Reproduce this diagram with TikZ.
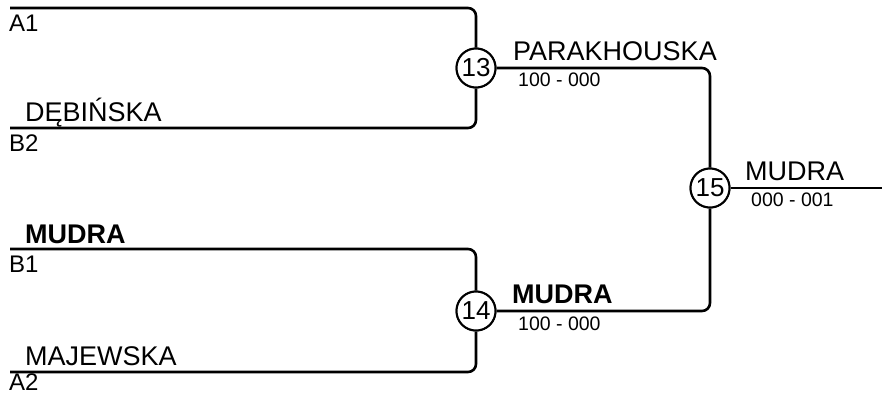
\documentclass[tikz,border=0pt]{standalone}
\usepackage{fontspec}
\setmainfont{Liberation Sans}
\begin{document}
\begin{tikzpicture}[x=1pt,y=-1pt,
  wire/.style={line width=2.6pt, rounded corners=8pt},
  matchnum/.style={circle, draw, line width=2pt, minimum size=39pt, inner sep=0pt, font=\fontsize{26}{26}\selectfont, fill=white},
  player/.style={anchor=base west, inner sep=0pt, font=\fontsize{27}{27}\selectfont},
  seed/.style={anchor=base west, inner sep=0pt, text depth=0pt, font=\fontsize{24}{24}\selectfont},
  score/.style={anchor=base west, inner sep=0pt, font=\fontsize{19.5}{19.5}\selectfont}]
\useasboundingbox (0,0) rectangle (882,394);
% match circles
\node[matchnum] (m13) at (476,68) {13};
\node[matchnum] (m14) at (476,311) {14};
\node[matchnum] (m15) at (710,188) {15};
% entry coordinates
\coordinate (a1) at (10,8);
\coordinate (b2) at (10,128);
\coordinate (b1) at (10,249);
\coordinate (a2) at (10,372);
\coordinate (out) at (882,188);
% brackets
\draw[wire] (a1) -| (m13.north);
\draw[wire] (b2) -| (m13.south);
\draw[wire] (b1) -| (m14.north);
\draw[wire] (a2) -| (m14.south);
\draw[wire] (m13.east) -| (m15.north);
\draw[wire] (m14.east) -| (m15.south);
\draw[wire] (m15.east) -- (out);
% redraw circles above lines
\node[matchnum] at (m13) {13};
\node[matchnum] at (m14) {14};
\node[matchnum] at (m15) {15};
% seeds
\node[seed] (sA1) at (9,31) {A1};
\node[seed] (sB2) at (9,151) {B2};
\node[seed] (sB1) at (9,272) {B1};
\node[seed] (sA2) at (9,390) {A2};
% players
\node[player] (pDeb) at (25,121) {DĘBIŃSKA};
\node[player] (pMud) at (25,243) {\bfseries MUDRA};
\node[player] (pMaj) at (25,365) {MAJEWSKA};
% winners
\node[player] (w13) at (513,60) {PARAKHOUSKA};
\node[score] (s13) at (518,86) {100 - 000};
\node[player] (w14) at (512,303) {\bfseries MUDRA};
\node[score] (s14) at (518,330) {100 - 000};
\node[player] (w15) at (745,180) {MUDRA};
\node[score] (s15) at (751,206) {000 - 001};
\end{tikzpicture}
\end{document}
